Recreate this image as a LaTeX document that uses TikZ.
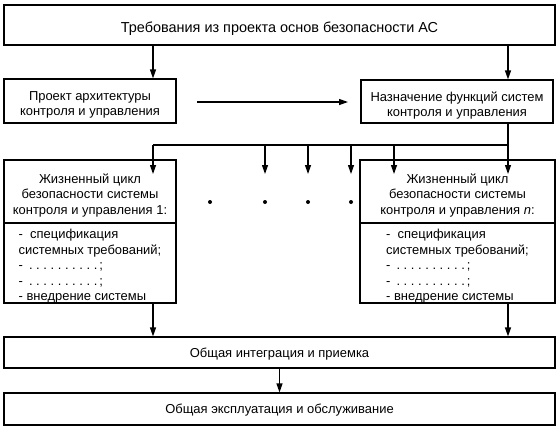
\documentclass[tikz,border=0pt]{standalone}
\usepackage{fontspec}
\setmainfont{Liberation Sans}
\usetikzlibrary{arrows.meta}
\newcommand{\dn}[2]{\raisebox{-#1}[\height][\depth]{#2}}
\newcommand{\txc}[2][4bp]{\dn{#1}{\begin{tabular}{@{}c@{}}#2\end{tabular}}}
\newcommand{\txl}[2][3.5bp]{\dn{#1}{\begin{tabular}{@{}l@{}}#2\end{tabular}}}
\newcommand{\dotline}{-\hspace{6bp}.\hspace{3.6bp}.\hspace{3.6bp}.\hspace{3.6bp}.\hspace{3.6bp}.\hspace{3.6bp}.\hspace{3.6bp}.\hspace{3.6bp}.\hspace{3.6bp}.\hspace{3.6bp}.\hspace{2bp};}
\begin{document}
\begin{tikzpicture}[x=1bp,y=-1bp,
  box/.style={draw,line width=1.2bp,inner sep=0pt,font=\fontsize{13}{15.5}\selectfont},
  arr/.style={line width=1.2bp,-{Triangle[length=9bp,width=6bp]}},
  ln/.style={line width=1.2bp}]
\useasboundingbox (0,0) rectangle (560,431);
\node[box,minimum width=551bp,minimum height=40bp,font=\fontsize{14.5}{17}\selectfont] (req) at (279.5,25) {\dn{3.5bp}{Требования из проекта основ безопасности АС}};
\node[box,minimum width=172bp,minimum height=44bp] (proj) at (90,101) {\txc[4bp]{Проект архитектуры\\контроля и управления}};
\node[box,minimum width=192bp,minimum height=43bp] (func) at (457,101.5) {\txc[4.5bp]{Назначение функций систем\\контроля и управления}};
\node[box,minimum width=172bp,minimum height=63bp] (lc1) at (90,191.5) {\txc{Жизненный цикл\\безопасности системы\\контроля и управления 1:}};
\node[box,minimum width=172bp,minimum height=80bp] (lc1b) at (90,263) {\txl{-\ \ спецификация\\системных требований;\\\dotline\\\dotline\\- внедрение системы}};
\node[box,minimum width=195bp,minimum height=63bp] (lcn) at (457.5,191.5) {\txc{Жизненный цикл\\безопасности системы\\контроля и управления \textit{n}:}};
\node[box,minimum width=195bp,minimum height=80bp] (lcnb) at (457.5,263) {\txl{-\ \ спецификация\\системных требований;\\\dotline\\\dotline\\- внедрение системы}};
\node[box,minimum width=551bp,minimum height=31bp] (int) at (279.5,352.5) {\dn{2bp}{Общая интеграция и приемка}};
\node[box,minimum width=551bp,minimum height=32bp] (exp) at (279.5,409) {\dn{1.5bp}{Общая эксплуатация и обслуживание}};
\coordinate (cA) at (153,0);
\coordinate (cB) at (508,0);
\draw[arr] (req.south -| cA) -- (proj.north -| cA);
\draw[arr] (req.south -| cB) -- (func.north -| cB);
\coordinate (h1) at (197,102);
\coordinate (h2) at (348,102);
\draw[arr] (h1) -- (h2);
\coordinate (busL) at (153,145);
\coordinate (busR) at (508,145);
\draw[ln] (func.south -| cB) -- (busR) -- (busL);
\foreach \x/\n in {153/1,265/2,308/3,351/4,394/5,508/6} {
  \coordinate (bt\n) at (\x,145);
  \coordinate (tp\n) at (\x,174);
  \draw[arr] (bt\n) -- (tp\n);
}
\foreach \x/\n in {210/1,265/2,308/3,351/4} {
  \coordinate (dt\n) at (\x,202);
  \fill (dt\n) circle (2bp);
}
\draw[arr] (lc1b.south -| cA) -- (int.north -| cA);
\draw[arr] (lcnb.south -| cB) -- (int.north -| cB);
\draw[arr] (int.south) -- (exp.north);
\end{tikzpicture}
\end{document}
